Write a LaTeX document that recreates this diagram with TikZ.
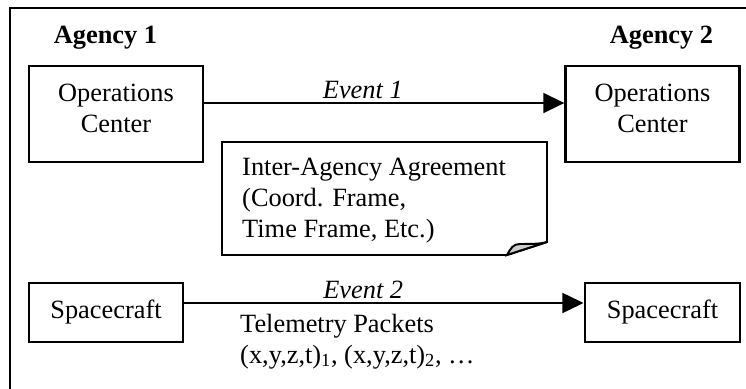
\documentclass[tikz,border=0pt]{standalone}
\usepackage{fontspec}
\setmainfont{Liberation Serif}
\usetikzlibrary{arrows.meta}
\tikzset{
  unit/.style={draw, line width=2.5pt, align=center},
  flow/.style={-{Triangle[length=18pt,width=17pt]}, line width=1.7pt},
  curl/.style={draw, line width=1.7pt, fill=black!20},
}
\begin{document}
\begin{tikzpicture}[x=0.03cm,y=-0.03cm,
  every node/.style={font=\fontsize{22.5}{26.4}\selectfont, inner sep=0pt}]
\useasboundingbox (0,0) rectangle (746,389);
\draw[line width=1.7pt] (10,400) -- (10,8) -- (760,8);

\node[anchor=base] (ag1) at (105.5,43) {\textbf{Agency 1}};
\node[anchor=base] (ag2) at (661.5,43) {\textbf{Agency 2}};

\node[unit, minimum width=5.22cm, minimum height=2.88cm, text depth=0.33cm] (oc1) at (116,114) {Operations\\Center};
\node[unit, minimum width=5.2cm, minimum height=2.88cm, text depth=0.33cm] (oc2) at (652.5,114) {Operations\\Center};

\draw[flow] ([yshift=0.33cm]oc1.east) -- ([yshift=0.33cm]oc2.west)
   node[pos=.44, anchor=base, yshift=0.15cm] (ev1) {\textit{Event 1}};

% agreement note
\draw[line width=1.7pt] (547,242) -- (547,142) -- (222,142) -- (222,255) -- (507,255) -- cycle;
\draw[curl] (507,255) .. controls (511,248) and (513,244) .. (520,244)
   .. controls (530,244) and (541,244) .. (547,242) -- cycle;
\node[anchor=base west, align=left] (agree) at (242,237)
   {Inter-Agency Agreement\\(Coord. Frame,\\Time Frame, Etc.)};

\node[unit, minimum width=4.62cm, minimum height=1.77cm] (sc1) at (106,312.5) {Spacecraft};
\node[unit, minimum width=4.65cm, minimum height=1.77cm] (sc2) at (662.5,312.5) {Spacecraft};

\draw[flow] ([yshift=0.285cm]sc1.east) -- ([yshift=0.285cm]sc2.west)
   node[pos=.448, anchor=base, yshift=0.15cm] (ev2) {\textit{Event 2}};

\node[anchor=base west, align=left] (tlm) at (240,363)
   {Telemetry Packets\\(x,y,z,t)\textsubscript{1}, (x,y,z,t)\textsubscript{2}, …};
\end{tikzpicture}
\end{document}
